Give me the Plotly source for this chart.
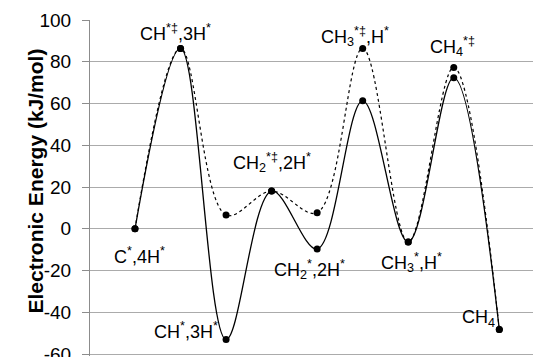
import plotly.graph_objects as go

# Reaction coordinate steps (evenly spaced states)
steps = list(range(9))

# Electronic energies (kJ/mol) along the two pathways
energy_solid = [0, 86.4, -53.0, 18.1, -9.7, 61.3, -6.3, 72.4, -48.2]
energy_dotted = [0, 86.4, 6.6, 18.1, 7.7, 86.4, -6.3, 77.3, -48.2]

y_ticks = [-60, -40, -20, 0, 20, 40, 60, 80, 100]
y_tick_text = ["-60", "-40", "-20", "0", "20", "40", "60", "80", "100"]

# State labels: (text, step, energy, x-offset px, y-offset px)
state_labels = [
    ("C<sup>*</sup>,4H<sup>*</sup>", 0, 0, 5, -27),
    ("CH<sup>*‡</sup>,3H<sup>*</sup>", 1, 86.4, -5, 16),
    ("CH<sup>*</sup>,3H<sup>*</sup>", 2, -53.0, -40, 9),
    ("CH<sub>2</sub><sup>*‡</sup>,2H<sup>*</sup>", 3, 18.1, 0, 29),
    ("CH<sub>2</sub><sup>*</sup>,2H<sup>*</sup>", 4, -9.7, -8, -20),
    ("CH<sub>3</sub><sup>*‡</sup>,H<sup>*</sup>", 5, 86.4, -8, 12),
    ("CH<sub>3</sub><sup>*</sup>,H<sup>*</sup>", 6, -6.3, 3, -21),
    ("CH<sub>4</sub><sup>*‡</sup>", 7, 77.3, -1, 21),
    ("CH<sub>4</sub>", 8, -48.2, -21, 11),
]

fig = go.Figure()

fig.add_trace(go.Scatter(
    x=steps, y=energy_dotted, mode="lines+markers",
    line=dict(color="black", width=1.2, dash="dot", shape="spline", smoothing=1.0),
    marker=dict(color="black", size=7),
    showlegend=False, hoverinfo="skip",
))
fig.add_trace(go.Scatter(
    x=steps, y=energy_solid, mode="lines+markers",
    line=dict(color="black", width=1.3, shape="spline", smoothing=1.0),
    marker=dict(color="black", size=7),
    showlegend=False, hoverinfo="skip",
))

annotations = []
for text, sx, sy, dx, dy in state_labels:
    annotations.append(dict(
        x=sx, y=sy, xref="x", yref="y", text=text, showarrow=False,
        xshift=dx, yshift=dy, font=dict(family="Liberation Sans, Arial", size=18, color="black"),
    ))

annotations.append(dict(
    x=0, y=0.5, xref="paper", yref="paper", xshift=-69, yshift=7,
    text="<b>Electronic Energy (kJ/mol)</b>", textangle=-90, showarrow=False,
    font=dict(family="Liberation Sans, Arial", size=21, color="black"),
))

fig.update_layout(
    width=533, height=357,
    margin=dict(l=90, r=0, t=20, b=1, autoexpand=False),
    paper_bgcolor="white", plot_bgcolor="white",
    annotations=annotations,
    xaxis=dict(range=[-0.988, 8.74], showgrid=False, showticklabels=False,
               zeroline=False, showline=False, ticks="", automargin=False),
    yaxis=dict(range=[-60.9, 100.0], tickvals=y_ticks, ticktext=y_tick_text,
               showgrid=True, gridcolor="#ababab", gridwidth=1, zeroline=False,
               showline=True, linecolor="#8c8c8c", linewidth=1,
               ticks="outside", ticklen=7, tickcolor="#8c8c8c",
               ticklabelstandoff=7, ticklabeloverflow="allow", automargin=False,
               tickfont=dict(family="Liberation Sans, Arial", size=19, color="black")),
)

fig.write_html("out.html")
